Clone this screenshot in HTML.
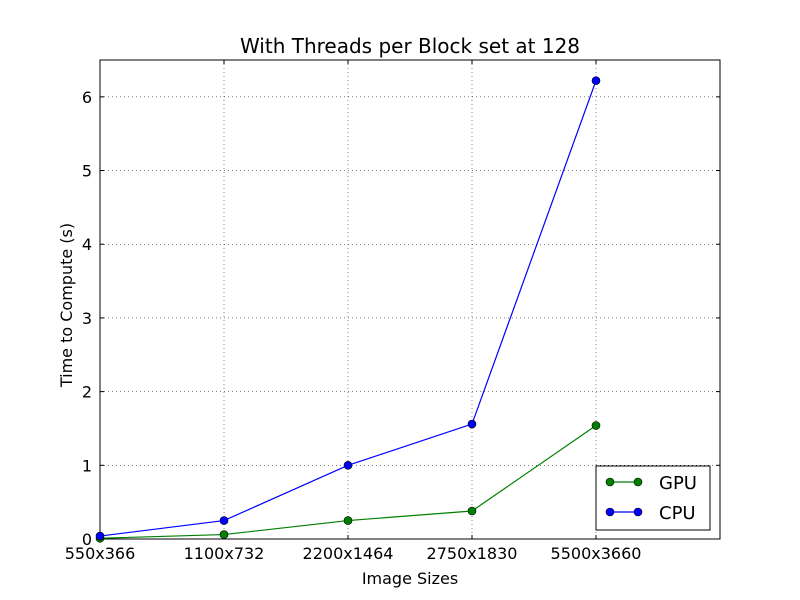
<!DOCTYPE html>
<html><head><meta charset="utf-8"><style>
body{margin:0;background:#fff;}
svg{display:block;font-family:"DejaVu Sans","Liberation Sans",sans-serif;}
</style></head><body>
<svg id="chart" width="800" height="600" viewBox="0 0 800 600"></svg>
<script>
const categories = ["550x366","1100x732","2200x1464","2750x1830","5500x3660"];
const gpuValues = [0.01, 0.06, 0.25, 0.38, 1.54];
const cpuValues = [0.04, 0.25, 1.0, 1.56, 6.22];
const yTicks = [0,1,2,3,4,5,6];
const yMax = 6.5, xMax = 5;
const L=100,R=720,T=60,B=539;
const sx = i => L + i*(R-L)/xMax;
const sy = v => B - v*(B-T)/yMax;
const svg = document.getElementById('chart');
const NS="http://www.w3.org/2000/svg";
function mk(tag, attrs, parent){const e=document.createElementNS(NS,tag);for(const k in attrs)e.setAttribute(k,attrs[k]);(parent||svg).appendChild(e);return e;}
function txt(s,attrs){const e=mk('text',attrs);e.textContent=s;return e;}

yTicks.forEach(v=>{ if(v===0)return;
  const g=mk('line',{x1:L,x2:R,y1:sy(v),y2:sy(v),stroke:'#000','stroke-width':0.5,'stroke-dasharray':'1,3'});
  
  
});
categories.forEach((c,i)=>{ if(i===0)return;
  const g=mk('line',{x1:sx(i),x2:sx(i),y1:T,y2:B,stroke:'#000','stroke-width':0.5,'stroke-dasharray':'1,3'});
  
  
});
const fr=mk('rect',{x:L,y:T,width:R-L,height:B-T,fill:'none',stroke:'#000','stroke-width':1});


yTicks.forEach(v=>{
  mk('line',{x1:L,x2:L+4,y1:sy(v),y2:sy(v),stroke:'#000'});
  mk('line',{x1:R,x2:R-4,y1:sy(v),y2:sy(v),stroke:'#000'});
  const t=txt(String(v),{x:L-8,y:sy(v)+6,'text-anchor':'end','font-size':16});
  
  
});
categories.forEach((c,i)=>{
  mk('line',{x1:sx(i),x2:sx(i),y1:B,y2:B-4,stroke:'#000'});
  mk('line',{x1:sx(i),x2:sx(i),y1:T,y2:T+4,stroke:'#000'});
  const t=txt(c,{x:sx(i),y:B+20,'text-anchor':'middle','font-size':16});
  
  
});
function series(vals,color,name){
  const pl=mk('polyline',{points:vals.map((v,i)=>sx(i)+','+sy(v)).join(' '),fill:'none',stroke:color,'stroke-width':1.2});
  
  
  vals.forEach((v,i)=>{
    const c=mk('circle',{cx:sx(i),cy:sy(v),r:4,fill:color,stroke:'#000','stroke-width':0.6});
    
    
  });
}
series(gpuValues,'#008000','gpu');
series(cpuValues,'#0000ff','cpu');
const tt=txt('With Threads per Block set at 128',{x:410,y:53,'text-anchor':'middle','font-size':20});


const xt=txt('Image Sizes',{x:410,y:584,'text-anchor':'middle','font-size':16});


const yt=txt('Time to Compute (s)',{x:0,y:0,'text-anchor':'middle','font-size':16,transform:'translate(72,305) rotate(-90)'});


const lg=mk('rect',{x:596,y:466,width:114,height:64,fill:'#fff',stroke:'#000'});


[['GPU','#008000',482],['CPU','#0000ff',512]].forEach(([n,c,y])=>{
  mk('line',{x1:610,x2:638,y1:y,y2:y,stroke:c,'stroke-width':1.2});
  mk('circle',{cx:610,cy:y,r:4,fill:c,stroke:'#000','stroke-width':0.6});
  mk('circle',{cx:638,cy:y,r:4,fill:c,stroke:'#000','stroke-width':0.6});
  const t=txt(n,{x:659,y:y+7,'font-size':18});
  
  
});
</script>
</body></html>
